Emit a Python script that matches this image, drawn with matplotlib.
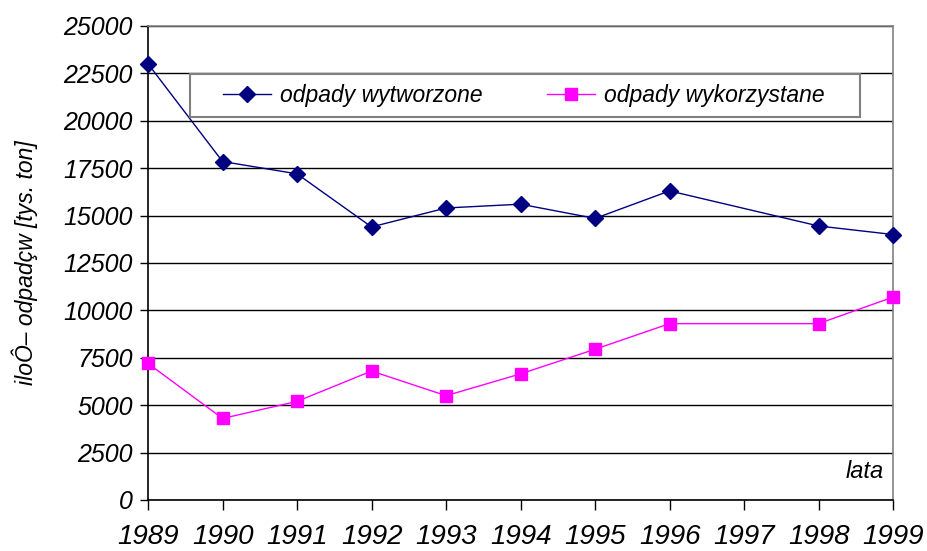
import numpy as np
import matplotlib.pyplot as plt
from matplotlib.patches import Rectangle

plt.rcParams['font.family'] = ['Liberation Sans', 'DejaVu Sans']

years = [1989, 1990, 1991, 1992, 1993, 1994, 1995, 1996, 1998, 1999]
tick_years = list(range(1989, 2000))
wytworzone = [23000, 17850, 17200, 14400, 15400, 15600, 14850, 16300, 14450, 14000]
wykorzystane = [7200, 4300, 5200, 6800, 5500, 6650, 7950, 9300, 9300, 10700]

fig = plt.figure(figsize=(9.27, 5.51), dpi=100)
ax = fig.add_axes([0.1597, 0.0926, 0.8037, 0.8603])

ax.plot(years, wytworzone, color='#000080', lw=1.0, marker='D', ms=8.5,
        label='odpady wytworzone', clip_on=False, zorder=3)
ax.plot(years, wykorzystane, color='#FF00FF', lw=1.0, marker='s', ms=9,
        label='odpady wykorzystane', clip_on=False, zorder=3)

ax.set_xlim(1989, 1999)
ax.set_ylim(0, 25000)
ax.set_yticks(np.arange(0, 25001, 2500))
ax.set_xticks(tick_years)
ax.set_xticklabels([str(y) for y in tick_years])
ax.grid(axis='y', color='#000000', lw=1.0)
ax.set_axisbelow(True)

for lab in ax.get_yticklabels():
    lab.set_fontstyle('italic')
    lab.set_fontsize(18)
for lab in ax.get_xticklabels():
    lab.set_fontstyle('italic')
    lab.set_fontsize(20)
ax.tick_params(axis='x', direction='out', length=7, width=1, pad=10)
ax.tick_params(axis='y', direction='out', length=6, width=1, pad=5)

for s in ['left', 'bottom']:
    ax.spines[s].set_color('black')
    ax.spines[s].set_linewidth(1.2)
for s in ['top', 'right']:
    ax.spines[s].set_color('#808080')
    ax.spines[s].set_linewidth(1.2)

ax.set_ylabel('iloÔ– odpadçw [tys. ton]', fontsize=16.5, style='italic')
ax.yaxis.set_label_coords(-0.148, 0.5)
ax.text(0.987, 0.035, 'lata', transform=ax.transAxes, ha='right', va='bottom',
        fontsize=17, style='italic')

# legend frame drawn separately so the padding matches the original
ax.add_patch(Rectangle((0.0564, 0.808), 0.8993, 0.0907, transform=ax.transAxes,
                       facecolor='white', edgecolor='#808080', lw=1.5, zorder=4))
leg = ax.legend(loc='center left', bbox_to_anchor=(0.1007, 0.853), ncol=2,
                fontsize=16.5, frameon=False, borderpad=0, borderaxespad=0,
                columnspacing=2.8, handlelength=2.1, handletextpad=0.4)
leg.set_zorder(5)
for t in leg.get_texts():
    t.set_fontstyle('italic')

fig.savefig('out.png', dpi=100)
